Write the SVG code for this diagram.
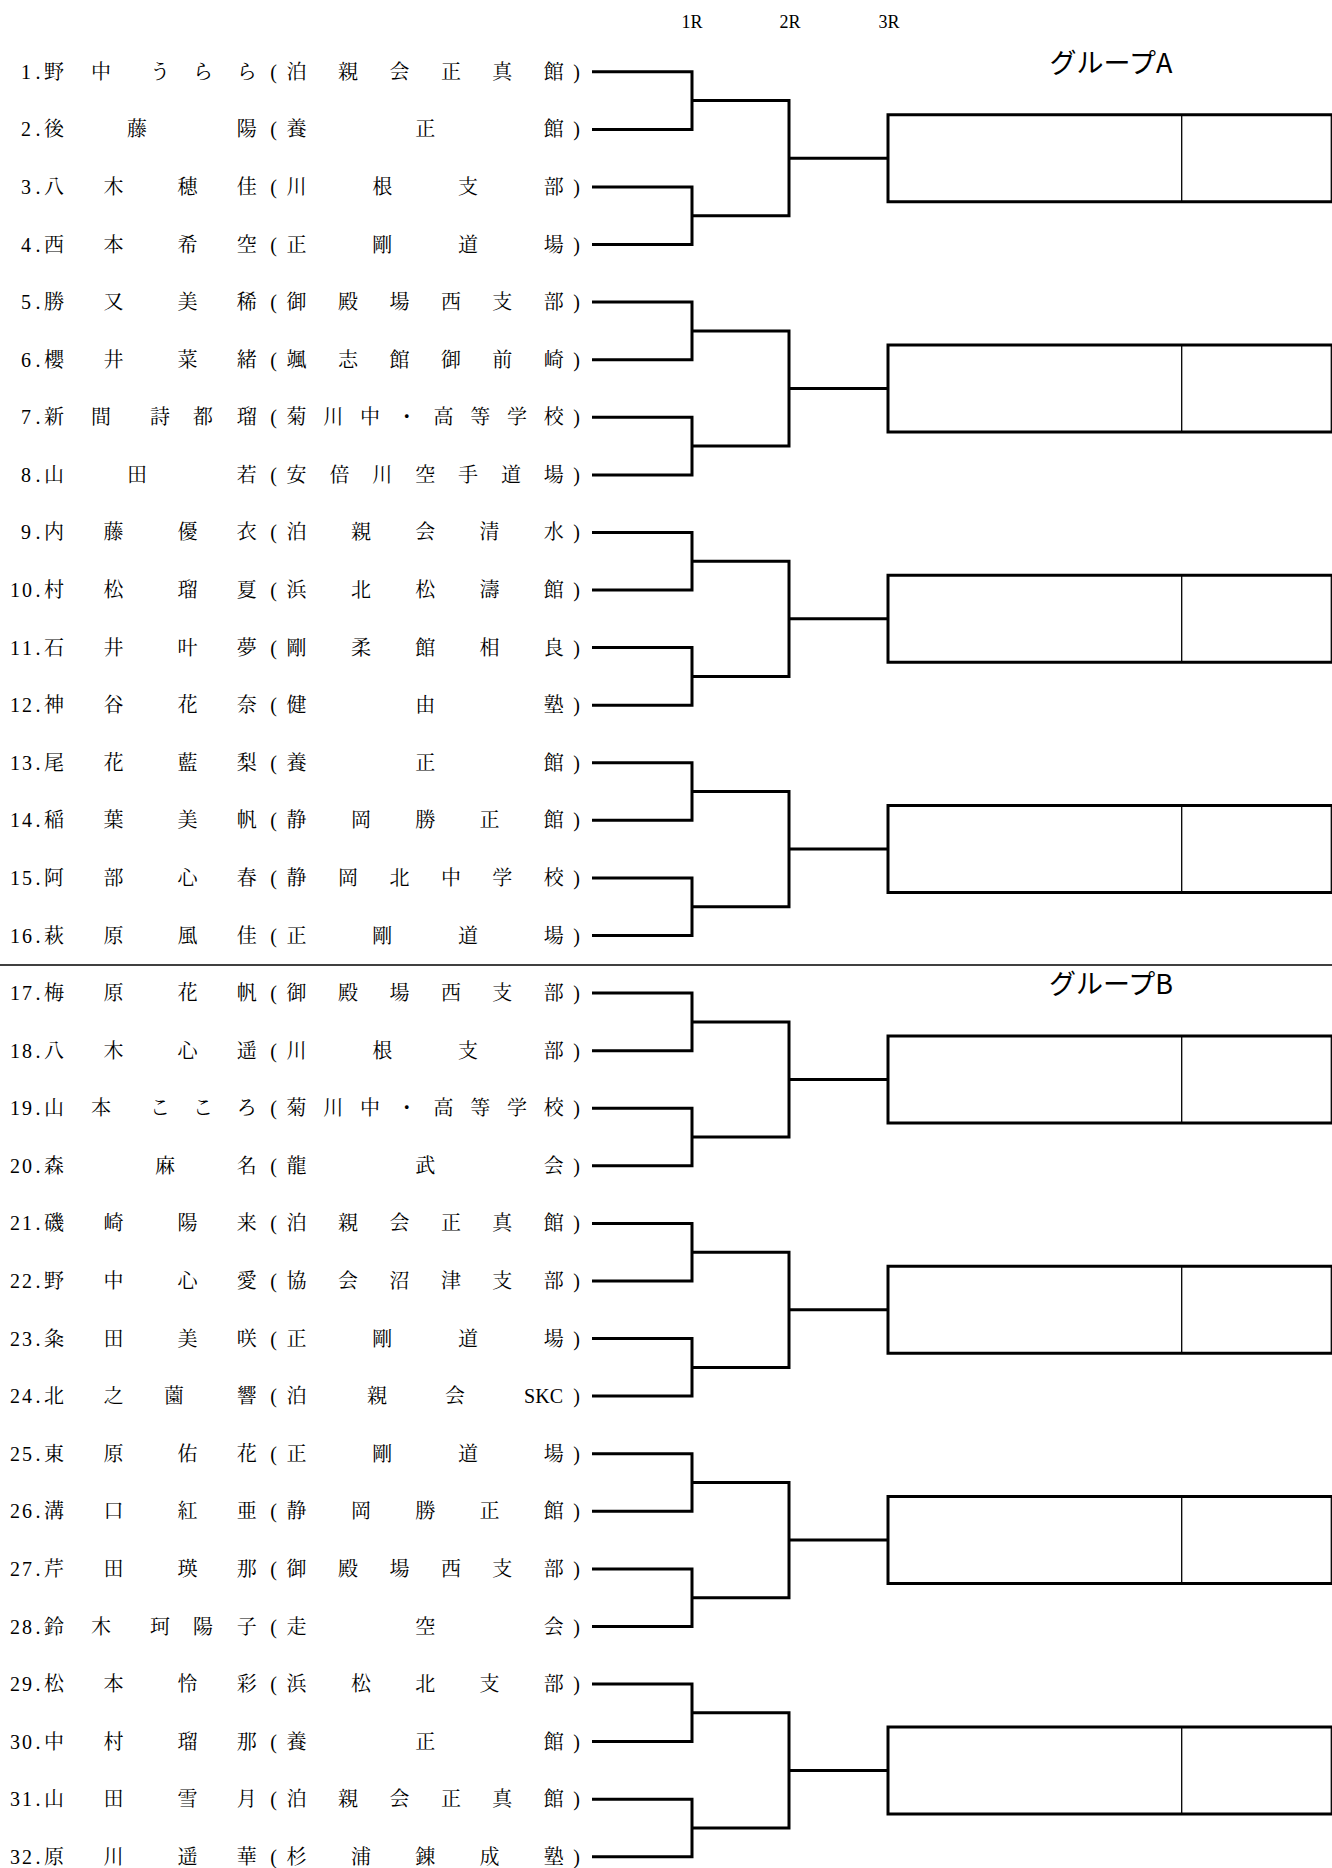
<svg xmlns="http://www.w3.org/2000/svg" width="1332" height="1868" viewBox="0 0 1332 1868">
<style>
.t{font-family:"Liberation Serif","Noto Serif CJK JP","Noto Sans CJK JP",serif;font-size:20px;text-anchor:middle;fill:#000}
.h{font-family:"Liberation Serif","Noto Serif CJK JP",serif;font-size:18px;text-anchor:middle;fill:#000}
.g{font-family:"Noto Sans CJK JP","Noto Sans",sans-serif;font-size:27px;text-anchor:middle;fill:#000}
.c{fill:none;stroke:#000;stroke-width:3}
.thin{fill:none;stroke:#000;stroke-width:1.3}
</style>
<rect width="1332" height="1868" fill="#fff"/>
<g id="header">
<text class="h" x="692" y="28">1R</text>
<text class="h" x="790" y="28">2R</text>
<text class="h" x="889" y="28">3R</text>
<text class="g" x="1111" y="73">グループA</text>
<text class="g" x="1111" y="994">グループB</text>
<line class="thin" x1="0" y1="965" x2="1332" y2="965" stroke-width="1.5"/>
</g>
<g id="p1" transform="translate(0,71.8)"><text class="t" y="7" x="26 38">1.</text><text class="t" y="7" x="54 101 160 203 246.8">野中うらら</text><text class="t" y="7" x="273.6 296.6 348 399.4 450.9 502.3 553.8 576.5">(泊親会正真館)</text></g>
<g id="p2" transform="translate(0,129.4)"><text class="t" y="7" x="26 38">2.</text><text class="t" y="7" x="54 137 246.8">後藤陽</text><text class="t" y="7" x="273.6 296.6 425.2 553.8 576.5">(養正館)</text></g>
<g id="p3" transform="translate(0,187)"><text class="t" y="7" x="26 38">3.</text><text class="t" y="7" x="54 113.5 187.5 246.8">八木穂佳</text><text class="t" y="7" x="273.6 296.6 382.3 468.1 553.8 576.5">(川根支部)</text></g>
<g id="p4" transform="translate(0,244.5)"><text class="t" y="7" x="26 38">4.</text><text class="t" y="7" x="54 113.5 187.5 246.8">西本希空</text><text class="t" y="7" x="273.6 296.6 382.3 468.1 553.8 576.5">(正剛道場)</text></g>
<g id="p5" transform="translate(0,302.1)"><text class="t" y="7" x="26 38">5.</text><text class="t" y="7" x="54 113.5 187.5 246.8">勝又美稀</text><text class="t" y="7" x="273.6 296.6 348 399.4 450.9 502.3 553.8 576.5">(御殿場西支部)</text></g>
<g id="p6" transform="translate(0,359.7)"><text class="t" y="7" x="26 38">6.</text><text class="t" y="7" x="54 113.5 187.5 246.8">櫻井菜緒</text><text class="t" y="7" x="273.6 296.6 348 399.4 450.9 502.3 553.8 576.5">(颯志館御前崎)</text></g>
<g id="p7" transform="translate(0,417.3)"><text class="t" y="7" x="26 38">7.</text><text class="t" y="7" x="54 101 160 203 246.8">新間詩都瑠</text><text class="t" y="7" x="273.6 296.6 333.3 370.1 406.8 443.6 480.3 517 553.8 576.5">(菊川中・高等学校)</text></g>
<g id="p8" transform="translate(0,474.9)"><text class="t" y="7" x="26 38">8.</text><text class="t" y="7" x="54 137 246.8">山田若</text><text class="t" y="7" x="273.6 296.6 339.5 382.3 425.2 468.1 510.9 553.8 576.5">(安倍川空手道場)</text></g>
<g id="p9" transform="translate(0,532.4)"><text class="t" y="7" x="26 38">9.</text><text class="t" y="7" x="54 113.5 187.5 246.8">内藤優衣</text><text class="t" y="7" x="273.6 296.6 360.9 425.2 489.5 553.8 576.5">(泊親会清水)</text></g>
<g id="p10" transform="translate(0,590)"><text class="t" y="7" x="15 27 38">10.</text><text class="t" y="7" x="54 113.5 187.5 246.8">村松瑠夏</text><text class="t" y="7" x="273.6 296.6 360.9 425.2 489.5 553.8 576.5">(浜北松濤館)</text></g>
<g id="p11" transform="translate(0,647.6)"><text class="t" y="7" x="15 27 38">11.</text><text class="t" y="7" x="54 113.5 187.5 246.8">石井叶夢</text><text class="t" y="7" x="273.6 296.6 360.9 425.2 489.5 553.8 576.5">(剛柔館相良)</text></g>
<g id="p12" transform="translate(0,705.2)"><text class="t" y="7" x="15 27 38">12.</text><text class="t" y="7" x="54 113.5 187.5 246.8">神谷花奈</text><text class="t" y="7" x="273.6 296.6 425.2 553.8 576.5">(健由塾)</text></g>
<g id="p13" transform="translate(0,762.8)"><text class="t" y="7" x="15 27 38">13.</text><text class="t" y="7" x="54 113.5 187.5 246.8">尾花藍梨</text><text class="t" y="7" x="273.6 296.6 425.2 553.8 576.5">(養正館)</text></g>
<g id="p14" transform="translate(0,820.3)"><text class="t" y="7" x="15 27 38">14.</text><text class="t" y="7" x="54 113.5 187.5 246.8">稲葉美帆</text><text class="t" y="7" x="273.6 296.6 360.9 425.2 489.5 553.8 576.5">(静岡勝正館)</text></g>
<g id="p15" transform="translate(0,877.9)"><text class="t" y="7" x="15 27 38">15.</text><text class="t" y="7" x="54 113.5 187.5 246.8">阿部心春</text><text class="t" y="7" x="273.6 296.6 348 399.4 450.9 502.3 553.8 576.5">(静岡北中学校)</text></g>
<g id="p16" transform="translate(0,935.5)"><text class="t" y="7" x="15 27 38">16.</text><text class="t" y="7" x="54 113.5 187.5 246.8">萩原風佳</text><text class="t" y="7" x="273.6 296.6 382.3 468.1 553.8 576.5">(正剛道場)</text></g>
<g id="p17" transform="translate(0,993.1)"><text class="t" y="7" x="15 27 38">17.</text><text class="t" y="7" x="54 113.5 187.5 246.8">梅原花帆</text><text class="t" y="7" x="273.6 296.6 348 399.4 450.9 502.3 553.8 576.5">(御殿場西支部)</text></g>
<g id="p18" transform="translate(0,1050.7)"><text class="t" y="7" x="15 27 38">18.</text><text class="t" y="7" x="54 113.5 187.5 246.8">八木心遥</text><text class="t" y="7" x="273.6 296.6 382.3 468.1 553.8 576.5">(川根支部)</text></g>
<g id="p19" transform="translate(0,1108.2)"><text class="t" y="7" x="15 27 38">19.</text><text class="t" y="7" x="54 101 160 203 246.8">山本こころ</text><text class="t" y="7" x="273.6 296.6 333.3 370.1 406.8 443.6 480.3 517 553.8 576.5">(菊川中・高等学校)</text></g>
<g id="p20" transform="translate(0,1165.8)"><text class="t" y="7" x="15 27 38">20.</text><text class="t" y="7" x="54 165 246.8">森麻名</text><text class="t" y="7" x="273.6 296.6 425.2 553.8 576.5">(龍武会)</text></g>
<g id="p21" transform="translate(0,1223.4)"><text class="t" y="7" x="15 27 38">21.</text><text class="t" y="7" x="54 113.5 187.5 246.8">磯崎陽来</text><text class="t" y="7" x="273.6 296.6 348 399.4 450.9 502.3 553.8 576.5">(泊親会正真館)</text></g>
<g id="p22" transform="translate(0,1281)"><text class="t" y="7" x="15 27 38">22.</text><text class="t" y="7" x="54 113.5 187.5 246.8">野中心愛</text><text class="t" y="7" x="273.6 296.6 348 399.4 450.9 502.3 553.8 576.5">(協会沼津支部)</text></g>
<g id="p23" transform="translate(0,1338.6)"><text class="t" y="7" x="15 27 38">23.</text><text class="t" y="7" x="54 113.5 187.5 246.8">粂田美咲</text><text class="t" y="7" x="273.6 296.6 382.3 468.1 553.8 576.5">(正剛道場)</text></g>
<g id="p24" transform="translate(0,1396.1)"><text class="t" y="7" x="15 27 38">24.</text><text class="t" y="7" x="54 113.5 174 246.8">北之薗響</text><text class="t" y="7" x="273.6 296.6 377 455">(泊親会</text><text class="t" y="7" x="563" style="text-anchor:end">SKC</text><text class="t" y="7" x="576.5">)</text></g>
<g id="p25" transform="translate(0,1453.7)"><text class="t" y="7" x="15 27 38">25.</text><text class="t" y="7" x="54 113.5 187.5 246.8">東原佑花</text><text class="t" y="7" x="273.6 296.6 382.3 468.1 553.8 576.5">(正剛道場)</text></g>
<g id="p26" transform="translate(0,1511.3)"><text class="t" y="7" x="15 27 38">26.</text><text class="t" y="7" x="54 113.5 187.5 246.8">溝口紅亜</text><text class="t" y="7" x="273.6 296.6 360.9 425.2 489.5 553.8 576.5">(静岡勝正館)</text></g>
<g id="p27" transform="translate(0,1568.9)"><text class="t" y="7" x="15 27 38">27.</text><text class="t" y="7" x="54 113.5 187.5 246.8">芹田瑛那</text><text class="t" y="7" x="273.6 296.6 348 399.4 450.9 502.3 553.8 576.5">(御殿場西支部)</text></g>
<g id="p28" transform="translate(0,1626.5)"><text class="t" y="7" x="15 27 38">28.</text><text class="t" y="7" x="54 101 160 203 246.8">鈴木珂陽子</text><text class="t" y="7" x="273.6 296.6 425.2 553.8 576.5">(走空会)</text></g>
<g id="p29" transform="translate(0,1684)"><text class="t" y="7" x="15 27 38">29.</text><text class="t" y="7" x="54 113.5 187.5 246.8">松本怜彩</text><text class="t" y="7" x="273.6 296.6 360.9 425.2 489.5 553.8 576.5">(浜松北支部)</text></g>
<g id="p30" transform="translate(0,1741.6)"><text class="t" y="7" x="15 27 38">30.</text><text class="t" y="7" x="54 113.5 187.5 246.8">中村瑠那</text><text class="t" y="7" x="273.6 296.6 425.2 553.8 576.5">(養正館)</text></g>
<g id="p31" transform="translate(0,1799.2)"><text class="t" y="7" x="15 27 38">31.</text><text class="t" y="7" x="54 113.5 187.5 246.8">山田雪月</text><text class="t" y="7" x="273.6 296.6 348 399.4 450.9 502.3 553.8 576.5">(泊親会正真館)</text></g>
<g id="p32" transform="translate(0,1856.8)"><text class="t" y="7" x="15 27 38">32.</text><text class="t" y="7" x="54 113.5 187.5 246.8">原川遥華</text><text class="t" y="7" x="273.6 296.6 360.9 425.2 489.5 553.8 576.5">(杉浦錬成塾)</text></g>
<g id="boxes">
<g id="box1"><path class="c" d="M1332,114.7H888V201.7H1332"/><line class="thin" x1="1331.3" y1="114.7" x2="1331.3" y2="201.7"/><line class="thin" x1="1181.7" y1="114.7" x2="1181.7" y2="201.7"/></g>
<g id="box2"><path class="c" d="M1332,345H888V432H1332"/><line class="thin" x1="1331.3" y1="345" x2="1331.3" y2="432"/><line class="thin" x1="1181.7" y1="345" x2="1181.7" y2="432"/></g>
<g id="box3"><path class="c" d="M1332,575.3H888V662.3H1332"/><line class="thin" x1="1331.3" y1="575.3" x2="1331.3" y2="662.3"/><line class="thin" x1="1181.7" y1="575.3" x2="1181.7" y2="662.3"/></g>
<g id="box4"><path class="c" d="M1332,805.6H888V892.6H1332"/><line class="thin" x1="1331.3" y1="805.6" x2="1331.3" y2="892.6"/><line class="thin" x1="1181.7" y1="805.6" x2="1181.7" y2="892.6"/></g>
<g id="box5"><path class="c" d="M1332,1036H888V1123H1332"/><line class="thin" x1="1331.3" y1="1036" x2="1331.3" y2="1123"/><line class="thin" x1="1181.7" y1="1036" x2="1181.7" y2="1123"/></g>
<g id="box6"><path class="c" d="M1332,1266.3H888V1353.3H1332"/><line class="thin" x1="1331.3" y1="1266.3" x2="1331.3" y2="1353.3"/><line class="thin" x1="1181.7" y1="1266.3" x2="1181.7" y2="1353.3"/></g>
<g id="box7"><path class="c" d="M1332,1496.6H888V1583.6H1332"/><line class="thin" x1="1331.3" y1="1496.6" x2="1331.3" y2="1583.6"/><line class="thin" x1="1181.7" y1="1496.6" x2="1181.7" y2="1583.6"/></g>
<g id="box8"><path class="c" d="M1332,1726.9H888V1813.9H1332"/><line class="thin" x1="1331.3" y1="1726.9" x2="1331.3" y2="1813.9"/><line class="thin" x1="1181.7" y1="1726.9" x2="1181.7" y2="1813.9"/></g>
</g>
<g id="connectors" class="c">
<path class="c" d="M592,71.8H692V129.4H592"/>
<path class="c" d="M592,187H692V244.5H592"/>
<path class="c" d="M592,302.1H692V359.7H592"/>
<path class="c" d="M592,417.3H692V474.9H592"/>
<path class="c" d="M592,532.4H692V590H592"/>
<path class="c" d="M592,647.6H692V705.2H592"/>
<path class="c" d="M592,762.8H692V820.3H592"/>
<path class="c" d="M592,877.9H692V935.5H592"/>
<path class="c" d="M592,993.1H692V1050.7H592"/>
<path class="c" d="M592,1108.2H692V1165.8H592"/>
<path class="c" d="M592,1223.4H692V1281H592"/>
<path class="c" d="M592,1338.6H692V1396.1H592"/>
<path class="c" d="M592,1453.7H692V1511.3H592"/>
<path class="c" d="M592,1568.9H692V1626.5H592"/>
<path class="c" d="M592,1684H692V1741.6H592"/>
<path class="c" d="M592,1799.2H692V1856.8H592"/>
<path class="c" d="M692,100.6H789V215.8H692"/>
<path class="c" d="M692,330.9H789V446.1H692"/>
<path class="c" d="M692,561.2H789V676.4H692"/>
<path class="c" d="M692,791.6H789V906.7H692"/>
<path class="c" d="M692,1021.9H789V1137H692"/>
<path class="c" d="M692,1252.2H789V1367.4H692"/>
<path class="c" d="M692,1482.5H789V1597.7H692"/>
<path class="c" d="M692,1712.8H789V1828H692"/>
<path class="c" d="M789,158.2H888"/>
<path class="c" d="M789,388.5H888"/>
<path class="c" d="M789,618.8H888"/>
<path class="c" d="M789,849.1H888"/>
<path class="c" d="M789,1079.5H888"/>
<path class="c" d="M789,1309.8H888"/>
<path class="c" d="M789,1540.1H888"/>
<path class="c" d="M789,1770.4H888"/>
</g>
</svg>
